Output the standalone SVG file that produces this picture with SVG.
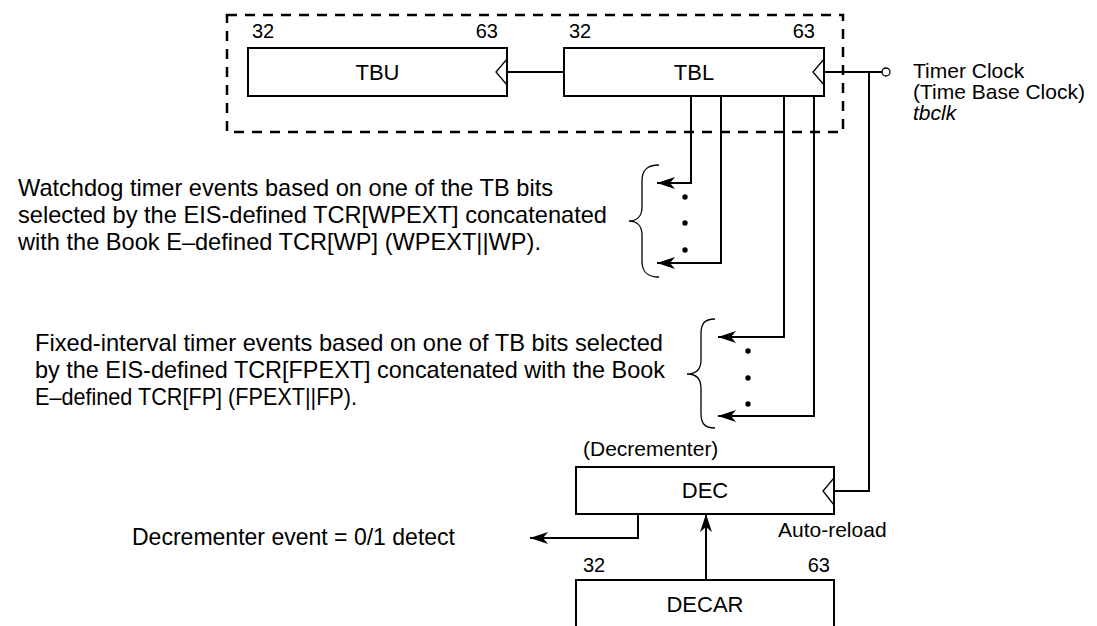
<svg xmlns="http://www.w3.org/2000/svg" width="1097" height="626" viewBox="0 0 1097 626">
<style>
.box{fill:#fff;stroke:#000;stroke-width:2}
.clk{fill:none;stroke:#000;stroke-width:1.3;stroke-linejoin:miter}
.wire{fill:none;stroke:#000;stroke-width:2}
.brace{fill:none;stroke:#000;stroke-width:1.3}
.dash{fill:none;stroke:#000;stroke-width:2.5;stroke-dasharray:10 8}
text{font-family:"Liberation Sans",Arial,Helvetica,sans-serif;fill:#000}
.lbl{font-size:22px;text-anchor:middle}
.num{font-size:20px}
.desc{font-size:24px}
.side{font-size:21px}
</style>
<defs>
<marker id="ah" markerUnits="userSpaceOnUse" markerWidth="20" markerHeight="14" viewBox="0 -7 20 14" refX="18" refY="0" orient="auto">
<path d="M0,-6 L18,0 L0,6 L5,0 z" fill="#000"/>
</marker>
</defs>
<rect width="1097" height="626" fill="#fff"/>

<g id="connectors">
<path class="wire" d="M507,72 H564"/>
<path class="wire" d="M824,72 H882"/>
<path class="wire" d="M869,72 V491 H834"/>
<path class="wire" d="M691,96 V183 H657" marker-end="url(#ah)"/>
<path class="wire" d="M721,96 V263 H657" marker-end="url(#ah)"/>
<path class="wire" d="M784,96 V337 H718" marker-end="url(#ah)"/>
<path class="wire" d="M814,96 V416 H718" marker-end="url(#ah)"/>
<path class="wire" d="M638,514 V538 H530" marker-end="url(#ah)"/>
<path class="wire" d="M706,580 V514" marker-end="url(#ah)"/>
</g>

<g id="timebase-group">
<rect class="dash" x="227" y="15" width="616" height="117"/>
</g>

<g id="TBU">
<rect class="box" x="248" y="48" width="259" height="48"/>
<polyline class="clk" points="507,59 496,72 507,85"/>
<text class="lbl" x="377.5" y="80">TBU</text>
<text class="num" x="252" y="38">32</text>
<text class="num" x="498" y="38" text-anchor="end">63</text>
</g>

<g id="TBL">
<rect class="box" x="564" y="48" width="260" height="48"/>
<polyline class="clk" points="824,59 813,72 824,85"/>
<text class="lbl" x="694" y="80">TBL</text>
<text class="num" x="569" y="38">32</text>
<text class="num" x="815" y="38" text-anchor="end">63</text>
</g>

<g id="timer-clock">
<circle cx="886" cy="72" r="4" fill="#fff" stroke="#000" stroke-width="1.3"/>
<text class="side" x="913" y="78">Timer Clock</text>
<text class="side" x="913" y="99">(Time Base Clock)</text>
<text class="side" x="913" y="120" font-style="italic">tbclk</text>
</g>

<g id="watchdog">
<text class="desc" x="18" y="196" textLength="535" lengthAdjust="spacingAndGlyphs">Watchdog timer events based on one of the TB bits</text>
<text class="desc" x="18" y="223" textLength="589" lengthAdjust="spacingAndGlyphs">selected by the EIS-defined TCR[WPEXT] concatenated</text>
<text class="desc" x="18" y="250" textLength="523" lengthAdjust="spacingAndGlyphs">with the Book E–defined TCR[WP] (WPEXT||WP).</text>
<path class="brace" d="M659,165 C647,165 642,170 642,181 L642,207 C642,216 637,221 629,221 C637,221 642,226 642,235 L642,261 C642,272 647,277 659,277"/>
<circle cx="685" cy="197" r="2.7"/>
<circle cx="685" cy="223" r="2.7"/>
<circle cx="685" cy="250" r="2.7"/>
</g>

<g id="fixed-interval">
<text class="desc" x="35" y="351" textLength="628" lengthAdjust="spacingAndGlyphs">Fixed-interval timer events based on one of TB bits selected</text>
<text class="desc" x="35" y="378" textLength="630" lengthAdjust="spacingAndGlyphs">by the EIS-defined TCR[FPEXT] concatenated with the Book</text>
<text class="desc" x="35" y="405" textLength="322" lengthAdjust="spacingAndGlyphs">E–defined TCR[FP] (FPEXT||FP).</text>
<path class="brace" d="M715,319 C704,319 701,324 701,334 L701,360 C701,369 696,374 687,374 C696,374 701,379 701,388 L701,413 C701,423 704,428 715,428"/>
<circle cx="748" cy="351" r="2.7"/>
<circle cx="748" cy="378" r="2.7"/>
<circle cx="748" cy="404" r="2.7"/>
</g>

<g id="DEC">
<text class="side" x="583" y="456">(Decrementer)</text>
<rect class="box" x="576" y="467" width="258" height="47"/>
<polyline class="clk" points="834,478 823,491 834,505"/>
<text class="lbl" x="705" y="498">DEC</text>
<text class="side" x="778" y="537">Auto-reload</text>
</g>

<g id="dec-event">
<text class="desc" x="132" y="545" textLength="323" lengthAdjust="spacingAndGlyphs">Decrementer event = 0/1 detect</text>
</g>

<g id="DECAR">
<text class="num" x="583" y="572">32</text>
<text class="num" x="830" y="572" text-anchor="end">63</text>
<rect class="box" x="576" y="580" width="258" height="60"/>
<text class="lbl" x="705" y="612">DECAR</text>
</g>
</svg>
